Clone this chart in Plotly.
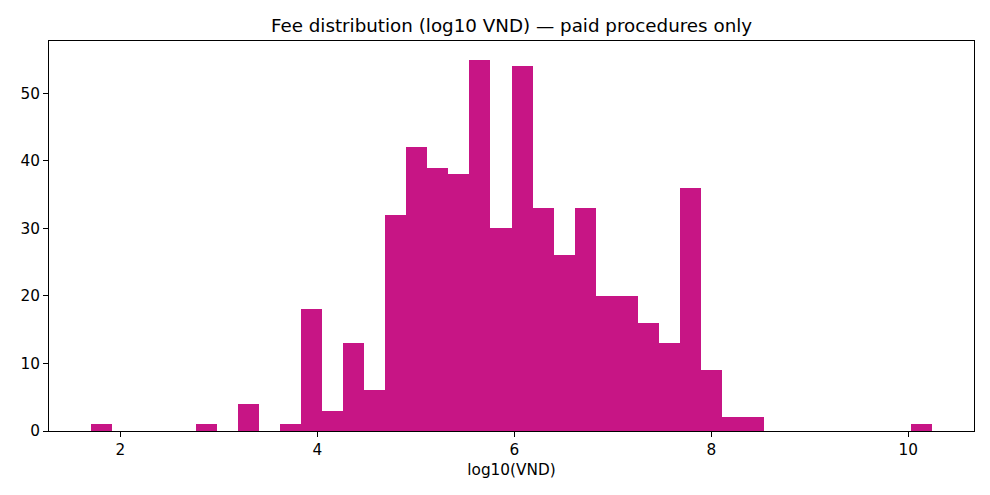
import plotly.graph_objects as go

# Histogram of log10(VND) fees: 40 equal-width bins
bin_start = 1.703
bin_end = 10.24
counts = [1, 0, 0, 0, 0, 1, 0, 4, 0, 1,
          18, 3, 13, 6, 32, 42, 39, 38, 55, 30,
          54, 33, 26, 33, 20, 20, 16, 13, 36, 9,
          2, 2, 0, 0, 0, 0, 0, 0, 0, 1]
x_ticks = [2, 4, 6, 8, 10]
y_ticks = [0, 10, 20, 30, 40, 50]

n = len(counts)
w = (bin_end - bin_start) / n
centers = [bin_start + w * (i + 0.5) for i in range(n)]
span = bin_end - bin_start

W, H = 982, 487  # page body has an 8px margin

fig = go.Figure(go.Bar(
    x=centers, y=counts, width=w,
    marker=dict(color="#C71585", line=dict(width=0)),
    hoverinfo="x+y",
))

font = "DejaVu Sans, sans-serif"
fig.update_layout(
    width=W, height=H,
    margin=dict(l=39, r=16, t=33, b=64),
    plot_bgcolor="white", paper_bgcolor="white",
    font=dict(family=font, color="black", size=15),
    showlegend=False,
    bargap=0,
    title=dict(text="Fee distribution (log10 VND) — paid procedures only",
               x=0.5, xref="paper", y=1 - 18 / H, yref="container",
               xanchor="center", yanchor="middle",
               font=dict(size=18.3, family=font, color="black")),
)
fig.update_xaxes(
    range=[bin_start - 0.05 * span, bin_end + 0.05 * span],
    tickvals=x_ticks, ticktext=[str(t) for t in x_ticks],
    ticks="outside", ticklen=5, tickwidth=1, tickcolor="black",
    showline=True, linecolor="black", linewidth=1, mirror=True,
    showgrid=False, zeroline=False,
    tickfont=dict(size=15.3),
    title=dict(text="log10(VND)", standoff=5, font=dict(size=15.3)),
)
fig.update_yaxes(
    range=[0, max(counts) * 1.05],
    tickvals=y_ticks,
    ticks="outside", ticklen=5, tickwidth=1, tickcolor="black",
    showline=True, linecolor="black", linewidth=1, mirror=True,
    showgrid=False, zeroline=False,
    tickfont=dict(size=15.3),
)

fig.write_html("out.html")
